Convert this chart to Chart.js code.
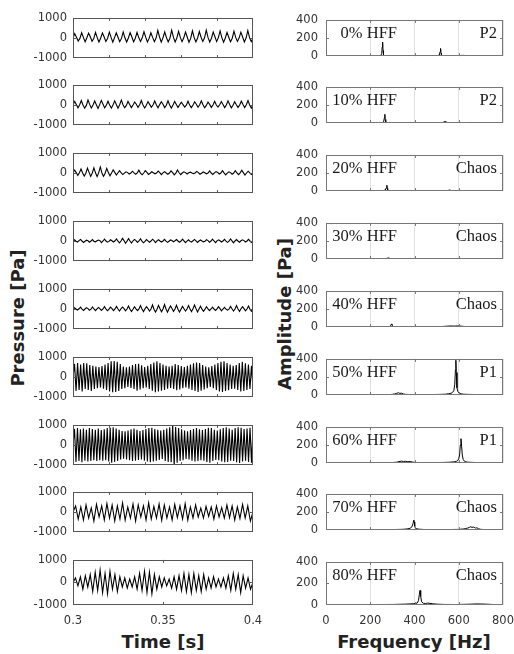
<!DOCTYPE html>
<html>
<head>
<meta charset="utf-8">
<script src="https://cdn.jsdelivr.net/npm/chart.js@4/dist/chart.umd.min.js"></script>
<style>
  body { margin: 0; background: #fff; width: 514px; height: 654px; position: relative; overflow: hidden; }
  canvas.panel { position: absolute; }
  .title { position: absolute; font: bold 18px 'DejaVu Sans'; color: #222; white-space: nowrap; transform: translate(-50%, -50%); }
  .title.rot { transform: translate(-50%, -50%) rotate(-90deg); }
</style>
</head>
<body>
<div class="title rot" style="left:17px; top:318px">Pressure [Pa]</div>
<div class="title rot" style="left:284px; top:314px">Amplitude [Pa]</div>
<div class="title" style="left:163px; top:641px">Time [s]</div>
<div class="title" style="left:414px; top:641px">Frequency [Hz]</div>

<script>
// ── labels ──
const hffLabels = ['0% HFF', '10% HFF', '20% HFF', '30% HFF', '40% HFF', '50% HFF', '60% HFF', '70% HFF', '80% HFF'];
const regimeLabels = ['P2', 'P2', 'Chaos', 'Chaos', 'Chaos', 'P1', 'P1', 'Chaos', 'Chaos'];
const timeTickLabels = [0.3, 0.35, 0.4];
const freqTickLabels = [0, 200, 400, 600, 800];
const pressureTicks = [-1000, 0, 1000];
const amplitudeTicks = [0, 200, 400];

// ── pressure traces [Pa], evenly sampled over 0.3–0.4 s ──
const p0 = [
  0, 220, 40, -150, -20, 260, 30, -190, 10, 240, 60, -160, -30, 280, 20, -200,
  0, 250, 50, -170, -10, 290, 30, -210, 20, 260, 40, -180, -20, 300, 10, -200,
  0, 270, 60, -190, -10, 280, 20, -170, 10, 310, 40, -200, -20, 260, 30, -180,
  0, 380, 50, -210, 20, 300, 20, -190, -10, 390, 40, -200, 0, 330, 30, -180,
  10, 300, 50, -210, -20, 360, 20, -190, 0, 320, 40, -170, 10, 390, 30, -200,
  -10, 300, 60, -180, 20, 350, 20, -210, 0, 280, 40, -190, -10, 340, 30, -170,
  10, 290, 50, -200, 0, 370, 20, -180, 0
];
const p10 = [
  0, 180, 20, -140, 10, 220, 0, -160, -20, 250, 30, -150, 0, 200, 10, -170,
  20, 230, 40, -140, -10, 190, 0, -150, 0, 210, 30, -160, 10, 240, 10, -140,
  -20, 180, 20, -130, 0, 150, 40, -120, 10, 220, 0, -150, -10, 170, 30, -110,
  0, 200, 10, -140, 20, 160, 40, -130, -10, 210, 0, -150, 0, 180, 30, -120,
  10, 140, 20, -100, -10, 190, 0, -130, 0, 160, 40, -110, 10, 200, 10, -140,
  -20, 150, 30, -120, 0, 180, 0, -100, 10, 170, 20, -130, 0, 210, 30, -140,
  -10, 160, 10, -120, 0, 190, 20, -130, 10, 220, 0, -150, 0
];
const p20 = [
  0, 150, 20, -120, 10, 200, 0, -150, -10, 240, 30, -170, 0, 260, 10, -180,
  20, 300, 0, -160, -10, 230, 20, -140, 0, 160, 30, -100, 10, 120, 0, -80,
  -10, 60, 20, -50, 0, 90, 10, -60, 10, 140, -10, -90, 0, 120, 30, -70,
  -10, 60, 10, -40, 0, 100, 20, -80, 10, 70, 0, -60, 0, 110, 20, -90,
  -10, 150, 10, -80, 0, 60, 20, -50, 10, 40, 0, -30, 0, 80, 20, -60,
  -10, 50, 10, -40, 0, 100, 0, -70, 10, 70, 30, -50, 0, 120, 10, -90,
  -10, 60, 20, -60, 0, 110, 0, -80, 10, 140, 20, -100, 0, 90, 10, -70, 0
];
const p30 = [
  0, 60, -10, -50, 20, 80, 0, -70, -10, 40, 10, -60, 0, 70, -20, -40,
  10, 50, 20, -80, 0, 90, 0, -60, -20, 60, 10, -50, 10, 100, -10, -90,
  0, 130, 20, -110, -10, 120, 0, -100, 10, 80, 20, -70, 0, 110, -10, -90,
  -20, 70, 10, -60, 0, 90, 20, -80, 10, 60, 0, -50, 0, 80, -10, -70,
  -10, 50, 20, -40, 10, 70, 0, -60, 0, 90, 10, -80, -10, 60, -20, -50,
  10, 80, 10, -70, 0, 50, 0, -40, -10, 70, 20, -60, 0, 90, 0, -80,
  10, 60, 10, -50, 0, 80, -10, -70, -10, 100, 10, -90, 0, 70, 0, -60,
  10, 60, 20, -50, 0, 80, 0, -70, 0
];
const p40 = [
  0, 60, 0, -50, 10, 90, -10, -70, 0, 70, 20, -60, -10, 100, 0, -80,
  10, 80, 10, -70, 0, 120, -10, -90, -10, 90, 20, -80, 0, 130, 0, -100,
  10, 100, 20, -90, 0, 150, -10, -120, -10, 110, 10, -80, 0, 170, 0, -130,
  10, 120, 20, -100, 0, 200, -10, -150, -10, 180, 10, -140, 0, 220, 0, -160,
  10, 150, 20, -120, 0, 190, -10, -150, -10, 130, 10, -100, 0, 170, 0, -130,
  10, 200, 20, -150, 0, 140, -10, -110, -10, 110, 10, -80, 0, 90, 0, -70,
  10, 120, 20, -90, 0, 80, -10, -60, -10, 130, 10, -100, 0, 170, 0, -120,
  10, 120, 20, -90, 0, 150, -10, -110, 0
];
const p50 = [
  0,
  650, -700, 700, -650, 620, -720, 700, -600, 680, -650, 600, -700,
  560, -600, 520, -560, 500, -520, 540, -580, 620, -650, 700, -720,
  780, -760, 800, -740, 760, -700, 650, -600, 520, -560, 480, -500,
  520, -540, 600, -600, 640, -680, 660, -620, 580, -560, 500, -520,
  560, -600, 650, -680, 720, -760, 780, -720, 700, -680, 620, -640,
  560, -580, 520, -540, 560, -600, 640, -660, 600, -620, 540, -560,
  500, -520, 560, -580, 620, -640, 680, -700, 720, -740, 700, -680,
  600, -620, 520, -560, 480, -500, 540, -560, 620, -640, 700, -720,
  760, -740, 780, -700, 700, -660, 620, -600, 560, -580, 600, -640,
  700, -720, 760, -700, 680, -640, 620, -600, 560, -580
];
const p60 = [
  0,
  800, -850, 850, -800, 780, -860, 820, -780, 760, -820, 840, -800,
  800, -760, 760, -800, 820, -760, 740, -780, 780, -760, 840, -820,
  860, -880, 880, -840, 820, -800, 760, -720, 700, -680, 680, -720,
  720, -760, 780, -800, 820, -780, 760, -740, 700, -720, 740, -780,
  800, -820, 840, -860, 860, -820, 800, -780, 760, -740, 720, -700,
  760, -800, 820, -840, 880, -860, 1000, -1000, 900, -880, 840, -800,
  780, -760, 720, -700, 680, -720, 740, -780, 800, -820, 840, -800,
  780, -760, 740, -780, 800, -840, 860, -880, 840, -800, 760, -740,
  720, -760, 780, -820, 840, -860, 880, -840, 820, -780, 760, -800,
  840, -860, 880, -900, 860, -820, 800, -780, 820, -840, 860, -880,
  900
];
const p70 = [
  0,
  300, -350, 250, -400, 350, -300, 200, -450, 380, -250, 300, -400,
  420, -300, 350, -450, 300, -350, 450, -400, 250, -300, 400, -450,
  350, -250, 300, -400, 450, -350, 280, -300, 400, -420, 350, -300,
  250, -400, 380, -280, 300, -350, 420, -400, 250, -300, 350, -250,
  200, -300, 280, -220, 250, -350, 300, -250, 220, -300, 350, -280,
  300, -400, 250, -320, 380, -300, 300, -450,
  0
];
const p80 = [
  0,
  200, -150, 250, -300, 300, -200, 350, -400, 450, -350, 550, -450,
  400, -500, 500, -300, 350, -400, 250, -200, 200, -250, 150, -200,
  250, -300, 400, -350, 500, -450, 450, -500, 350, -300, 250, -200,
  200, -150, 150, -250, 250, -300, 300, -350, 400, -400, 350, -450,
  400, -350, 300, -400, 350, -300, 200, -250, 250, -200, 150, -200,
  200, -250, 300, -350, 400, -300, 350, -450, 300, -250, 200, -300,
  0
];
const pressures = [p0, p10, p20, p30, p40, p50, p60, p70, p80];

// ── amplitude spectra: frequency [Hz] / amplitude [Pa] ──
const f0 = [0, 20, 40, 60, 80, 100, 120, 140, 160, 180, 200, 220, 240,
  248, 252, 254, 256, 258, 260, 264, 270,
  290, 310, 330, 350, 370, 390, 410, 430, 450, 470, 490,
  505, 512, 516, 518, 520, 522, 526, 535,
  560, 580, 600, 620, 640, 660, 680, 700, 720, 740, 760, 780, 800];
const a0 = [4, 3, 2, 3, 2, 3, 2, 3, 2, 3, 2, 3, 4,
  8, 30, 100, 155, 60, 15, 6, 4,
  3, 2, 3, 2, 3, 2, 3, 2, 3, 3, 4,
  5, 12, 50, 85, 30, 10, 5, 3,
  2, 3, 6, 8, 5, 4, 6, 3, 2, 3, 2, 2, 2];

const f10 = [0, 20, 40, 60, 80, 100, 120, 140, 160, 180, 200, 220, 240,
  255, 261, 264, 266, 268, 270, 274, 280,
  300, 320, 340, 360, 380, 400, 420, 440, 460, 480, 500, 520,
  532, 538, 542, 546, 552, 570,
  600, 620, 640, 660, 680, 700, 720, 740, 760, 780, 800];
const a10 = [3, 2, 3, 2, 2, 3, 2, 2, 3, 2, 2, 3, 3,
  6, 20, 60, 97, 40, 12, 5, 3,
  2, 3, 2, 2, 3, 2, 3, 2, 2, 3, 3, 4,
  10, 18, 14, 6, 3, 2,
  2, 3, 6, 7, 5, 3, 2, 2, 2, 2, 2];

const f20 = [0, 20, 40, 60, 80, 100, 120, 140, 160, 180, 200, 220, 240,
  260, 268, 272, 275, 277, 279, 282, 290,
  300, 320, 340, 360, 380, 400, 420, 440, 460, 480, 500, 520, 540,
  550, 556, 560, 564, 570,
  580, 600, 620, 640, 660, 680, 700, 720, 740, 760, 780, 800];
const a20 = [3, 2, 2, 3, 2, 3, 2, 2, 3, 2, 3, 3, 4,
  6, 12, 35, 65, 30, 10, 5, 4,
  3, 4, 3, 2, 3, 2, 3, 2, 3, 2, 3, 2, 3,
  5, 10, 14, 6, 3,
  3, 2, 3, 2, 2, 3, 2, 2, 2, 2, 2, 2];

const f30 = [0, 20, 40, 60, 80, 100, 120, 140, 160, 180, 200, 220, 240, 260,
  270, 278, 283, 287, 292, 300,
  320, 340, 360, 380, 400, 420, 440, 460, 480, 500, 520, 540, 560,
  580, 600, 620, 640, 660, 680, 700, 720, 740, 760, 780, 800];
const a30 = [3, 2, 3, 2, 2, 3, 2, 3, 2, 3, 2, 3, 3, 4,
  6, 10, 13, 9, 5, 4,
  3, 3, 2, 3, 2, 3, 2, 3, 3, 2, 3, 2, 3,
  2, 3, 4, 3, 3, 2, 3, 2, 2, 2, 2, 2];

const f40 = [0, 20, 40, 60, 80, 100, 120, 140, 160, 180, 200, 220, 240, 260, 280,
  288, 293, 296, 298, 301, 306,
  320, 340, 360, 380, 400, 420, 440, 460, 480, 500, 520, 540, 560,
  580, 600, 620, 640, 660, 680, 700, 720, 740, 760, 780, 800];
const a40 = [3, 2, 3, 2, 2, 3, 2, 3, 2, 3, 2, 3, 3, 3, 4,
  8, 20, 35, 28, 10, 5,
  3, 3, 2, 3, 3, 2, 3, 3, 4, 5, 6, 9, 12,
  11, 13, 8, 5, 4, 3, 3, 2, 2, 2, 2, 2];

const f50 = [0, 20, 40, 60, 80, 100, 120, 140, 160, 180, 200, 220, 240, 260, 280,
  300, 310, 320, 328, 334, 340, 350, 360,
  380, 400, 420, 440, 460, 480, 500, 520, 540,
  555, 565, 572, 578, 582, 585, 587, 589, 592, 596, 602, 610, 620,
  640, 660, 680, 700, 720, 740, 760, 780, 800];
const a50 = [3, 2, 3, 3, 2, 3, 3, 2, 3, 4, 3, 4, 4, 5, 5,
  8, 12, 20, 26, 18, 22, 12, 8,
  6, 5, 5, 6, 5, 6, 7, 8, 10,
  15, 20, 30, 50, 120, 280, 385, 250, 80, 40, 22, 14, 10,
  8, 7, 6, 5, 5, 4, 4, 3, 3];

const f60 = [0, 20, 40, 60, 80, 100, 120, 140, 160, 180, 200, 220, 240, 260, 280, 300,
  320, 330, 340, 350, 360, 370, 380, 390, 400,
  420, 440, 460, 480, 500, 520, 540, 560, 580,
  590, 596, 600, 604, 607, 610, 613, 616, 620, 625, 632, 640,
  660, 680, 700, 720, 740, 760, 780, 800];
const a60 = [3, 2, 3, 3, 2, 3, 3, 2, 3, 3, 4, 3, 4, 4, 5, 6,
  10, 16, 22, 18, 20, 15, 17, 12, 8,
  6, 5, 5, 6, 6, 7, 8, 10, 14,
  20, 30, 50, 90, 200, 270, 180, 90, 40, 22, 14, 10,
  8, 6, 5, 4, 4, 3, 3, 3];

const f70 = [0, 20, 40, 60, 80, 100, 120, 140, 160, 180, 200, 220, 240, 260, 280, 300, 320, 340,
  355, 370, 380, 388, 393, 397, 399, 401, 404, 410, 420,
  440, 460, 480, 500, 520, 540, 560, 580, 600, 620,
  630, 640, 648, 655, 660, 665, 670, 676, 682, 690, 700,
  720, 740, 760, 780, 800];
const a70 = [3, 2, 3, 2, 3, 3, 2, 3, 3, 4, 3, 4, 4, 5, 6, 6, 7, 8,
  10, 14, 20, 35, 70, 110, 90, 45, 25, 15, 10,
  7, 6, 5, 5, 6, 5, 6, 7, 8, 12,
  16, 22, 30, 38, 28, 35, 30, 22, 26, 14, 8,
  6, 5, 4, 3, 3];

const f80 = [0, 20, 40, 60, 80, 100, 120, 140, 160, 180, 200, 220, 240, 260, 280, 300, 320, 340,
  360, 380, 395, 405, 412, 418, 422, 425, 428, 432, 440, 450, 460, 470, 480, 490, 500,
  520, 540, 560, 580, 600, 620, 640, 660, 680, 700, 720, 740, 760, 780, 800];
const a80 = [3, 2, 3, 2, 3, 2, 3, 3, 2, 3, 3, 4, 3, 4, 5, 5, 6, 7,
  8, 10, 12, 14, 18, 40, 100, 135, 80, 30, 16, 14, 18, 15, 12, 10, 8,
  6, 5, 5, 4, 5, 6, 7, 8, 10, 9, 8, 6, 4, 3, 3];

const freqs = [f0, f10, f20, f30, f40, f50, f60, f70, f80];
const amps = [a0, a10, a20, a30, a40, a50, a60, a70, a80];

// ── layout ──
const panelTops = [13, 80, 148, 216, 284, 352, 420, 487, 555];
const panelH = 50;
const PAD = 8;
const BOTTOM_AXIS_H = 30;
const TICK_FONT = { family: "'DejaVu Sans'", size: 11.5 };
const plainTick = v => String(+Number(v).toFixed(3));

// frame, inward tick marks and panel captions
const framePlugin = {
  id: 'frame',
  afterDatasetsDraw(chart, args, opts) {
    const { ctx, chartArea: a, scales } = chart;
    ctx.save();
    ctx.strokeStyle = opts.color;
    ctx.lineWidth = 1;
    ctx.beginPath();
    (opts.xTicks || []).forEach(v => {
      const x = Math.round(scales.x.getPixelForValue(v)) + 0.5;
      ctx.moveTo(x, a.top); ctx.lineTo(x, a.top + 3);
      ctx.moveTo(x, a.bottom); ctx.lineTo(x, a.bottom - 3);
    });
    (opts.yTicks || []).forEach(v => {
      const y = Math.round(scales.y.getPixelForValue(v)) + 0.5;
      ctx.moveTo(a.left, y); ctx.lineTo(a.left + 3, y);
      ctx.moveTo(a.right, y); ctx.lineTo(a.right - 3, y);
    });
    ctx.stroke();
    ctx.strokeRect(Math.round(a.left) + 0.5, Math.round(a.top) + 0.5,
                   Math.round(a.right - a.left) - 1, Math.round(a.bottom - a.top) - 1);
    if (opts.caption) {
      ctx.fillStyle = '#1a1a1a';
      ctx.font = "16.5px 'Liberation Serif'";
      ctx.textBaseline = 'alphabetic';
      ctx.textAlign = 'right';
      ctx.fillText(opts.caption, a.left + 71, a.top + 18);
      ctx.fillText(opts.regime, a.right - 6, a.top + 18);
    }
    ctx.restore();
  }
};

function makeCanvas(left, top, w, h) {
  const c = document.createElement('canvas');
  c.className = 'panel';
  c.width = w; c.height = h;
  c.style.left = left + 'px'; c.style.top = top + 'px';
  c.style.width = w + 'px'; c.style.height = h + 'px';
  document.body.appendChild(c);
  return c;
}

function buildPanel(i, col) {
  const isBottom = i === panelTops.length - 1;
  const left = col === 0 ? 0 : 268;
  const yW = col === 0 ? 73 : 58;
  const padR = col === 0 ? 13 : 11;
  const plotW = col === 0 ? 180 : 177;
  const w = yW + plotW + padR;
  const h = PAD + panelH + (isBottom ? BOTTOM_AXIS_H : PAD);
  const canvas = makeCanvas(left, panelTops[i] - PAD, w, h);

  let points, xMin, xMax, xStep, yMin, yMax, yStep, innerX, innerY;
  if (col === 0) {
    const v = pressures[i];
    // sample times of the trace
    points = v.map((y, k) => ({ x: 0.3 + k * 0.1 / (v.length - 1), y }));
    xMin = timeTickLabels[0]; xMax = timeTickLabels[timeTickLabels.length - 1]; xStep = 0.05;
    yMin = pressureTicks[0]; yMax = pressureTicks[2]; yStep = 1000;
    innerX = isBottom ? [0.35] : [0.32, 0.34, 0.36, 0.38];
    innerY = [0];
  } else {
    points = freqs[i].map((x, k) => ({ x, y: amps[i][k] }));
    xMin = freqTickLabels[0]; xMax = freqTickLabels[freqTickLabels.length - 1]; xStep = 200;
    yMin = amplitudeTicks[0]; yMax = amplitudeTicks[2]; yStep = 200;
    innerX = [200, 400, 600];
    innerY = [200];
  }

  new Chart(canvas.getContext('2d'), {
    type: 'line',
    data: {
      datasets: [{
        data: points,
        borderColor: '#000',
        borderWidth: col === 0 ? 1.1 : 1,
        pointRadius: 0,
        tension: 0,
        fill: false,
      }],
    },
    options: {
      responsive: false,
      animation: false,
      events: [],
      layout: { padding: { top: PAD, bottom: isBottom ? 0 : PAD, left: 0, right: padR } },
      plugins: {
        legend: { display: false },
        tooltip: { enabled: false },
        frame: {
          color: col === 0 ? '#555' : '#777',
          xTicks: innerX,
          yTicks: innerY,
          caption: col === 1 ? hffLabels[i] : null,
          regime: regimeLabels[i],
        },
      },
      scales: {
        x: {
          type: 'linear',
          min: xMin, max: xMax,
          border: { display: false },
          grid: { display: col === 1, drawTicks: false, color: '#e2e2e2', lineWidth: 1 },
          ticks: { display: isBottom, stepSize: xStep, color: '#333', font: TICK_FONT, padding: 9, maxRotation: 0, callback: plainTick },
          afterFit: s => { s.height = isBottom ? BOTTOM_AXIS_H : 0; s.paddingLeft = 0; s.paddingRight = 0; },
        },
        y: {
          min: yMin, max: yMax,
          border: { display: false },
          grid: { display: false, drawTicks: false },
          ticks: { stepSize: yStep, color: '#333', font: TICK_FONT, padding: col === 0 ? 6 : 8, callback: plainTick },
          afterFit: s => { s.width = yW; },
        },
      },
    },
    plugins: [framePlugin],
  });
}

for (let i = 0; i < panelTops.length; i++) {
  buildPanel(i, 0);
  buildPanel(i, 1);
}
</script>
</body>
</html>
